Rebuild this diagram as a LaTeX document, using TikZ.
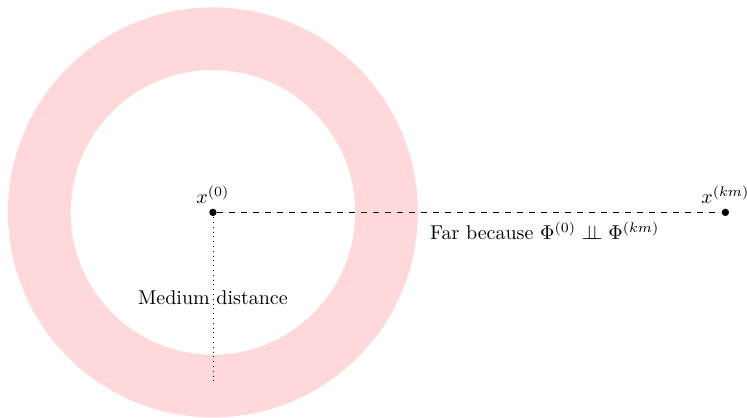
\documentclass[tikz,border=0pt]{standalone}
\usepackage{amsmath,amssymb}
\usepackage{xcolor}
\usepackage{tikz}
\usetikzlibrary{arrows.meta,calc,positioning}
\definecolor{ringpink}{HTML}{FFD8D9}
\newcommand{\indep}{\perp\!\!\!\perp}
\tikzset{
  ringband/.style={fill=ringpink, draw=none, even odd rule},
  point/.style={circle, fill=black, inner sep=1.3pt},
  farline/.style={black, dashed, line width=0.5pt},
  radiusline/.style={black, dotted, line width=0.4pt}
}
\begin{document}
\begin{tikzpicture}
  \useasboundingbox (-3.74,-3.60) rectangle (9.38,3.73);
  \fill[ringband] (0,0) circle (3.6) (0,0) circle (2.5);
  \node[point, label={[inner sep=2pt]above:$x^{(0)}$}] (x0) at (0,0) {};
  \node[point, label={[inner sep=2pt]above:$x^{(km)}$}] (xkm) at (9,0) {};
  \coordinate (rim) at (0,-3);
  \draw[radiusline] (x0.center) -- (rim) node[midway] (medlbl) {Medium distance};
  \draw[farline] (x0) -- (xkm) node[pos=0.65, below=1pt] (farlbl) {Far because $\Phi^{(0)} \indep \Phi^{(km)}$};
\end{tikzpicture}
\end{document}
